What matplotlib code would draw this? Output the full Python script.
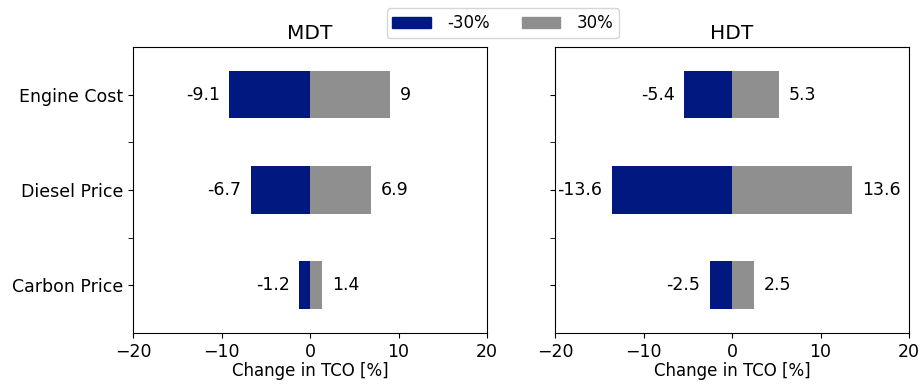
import matplotlib.pyplot as plt
from matplotlib.patches import Patch

categories = ["Engine Cost", "Diesel Price", "Carbon Price"]
mdt_low = [-9.1, -6.7, -1.2]
mdt_high = [9, 6.9, 1.4]
hdt_low = [-5.4, -13.6, -2.5]
hdt_high = [5.3, 13.6, 2.5]

LOW_COLOR = "#00187f"
HIGH_COLOR = "#8f8f8f"

plt.rcParams["font.size"] = 12.5

fig = plt.figure(figsize=(9.21, 3.88), dpi=100)
ax1 = fig.add_axes([0.1444, 0.1418, 0.3844, 0.7371])
ax2 = fig.add_axes([0.6026, 0.1418, 0.3844, 0.7371])


def draw_panel(ax, low, high, title, show_labels):
    y = list(range(len(categories)))
    b_low = ax.barh(y, low, height=0.5, color=LOW_COLOR)
    b_high = ax.barh(y, high, height=0.5, color=HIGH_COLOR)
    ax.bar_label(b_low, labels=[f"{v:g}" for v in low], padding=7, fontsize=12.5)
    ax.bar_label(b_high, labels=[f"{v:g}" for v in high], padding=7, fontsize=12.5)
    ax.set_xlim(-20, 20)
    ax.set_ylim(2.5, -0.5)
    ax.set_yticks(y)
    ax.set_yticks([0.5, 1.5], minor=True)
    ax.tick_params(axis="y", which="minor", length=3.5)
    if show_labels:
        ax.set_yticklabels(categories)
    else:
        ax.set_yticklabels([])
    ax.set_xticks([-20, -10, 0, 10, 20])
    ax.set_xlabel("Change in TCO [%]", fontsize=12, labelpad=1)
    ax.set_title(title, fontsize=14.5, pad=6)


draw_panel(ax1, mdt_low, mdt_high, "MDT", True)
draw_panel(ax2, hdt_low, hdt_high, "HDT", False)

handles = [Patch(color=LOW_COLOR, label="-30%"), Patch(color=HIGH_COLOR, label="30%")]
fig.legend(handles=handles, loc="upper center", bbox_to_anchor=(503 / 921, 1.0),
           ncol=2, fontsize=12, handlelength=2.3, handletextpad=1.0,
           columnspacing=1.9, borderpad=0.35)

fig.savefig("out.png", dpi=100)
